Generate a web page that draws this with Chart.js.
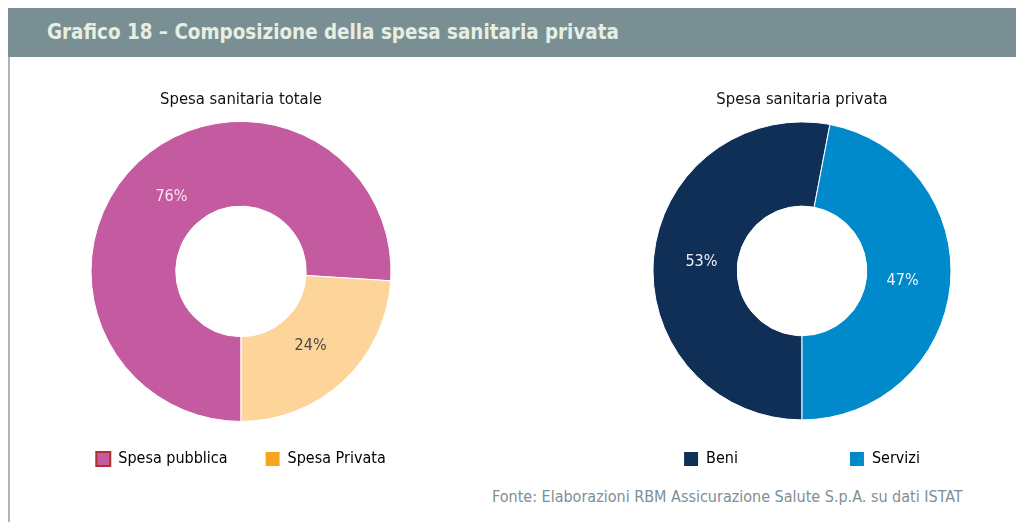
<!DOCTYPE html>
<html>
<head>
<meta charset="utf-8">
<script src="https://cdn.jsdelivr.net/npm/chart.js@4"></script>
<style>
  body { margin: 0; width: 1016px; height: 522px; overflow: hidden; background: #fff; position: relative;
         font-family: "DejaVu Sans Condensed", sans-serif; }
  #header { position: absolute; left: 8px; top: 8px; width: 1008px; height: 49px; background: #798f94; }
  #header span { position: absolute; left: 39px; top: 0; line-height: 49px; font-size: 20.4px; font-weight: bold; color: #e6efe2; white-space: nowrap; }
  #bordo { position: absolute; left: 8px; top: 57px; width: 2px; height: 465px; background: #a9b7ba; }
  .box { position: absolute; top: 81px; height: 400px; }
  #fonte { position: absolute; left: 492px; top: 487px; line-height: 20px; font-size: 16px; color: #7c9095; white-space: nowrap; }
</style>
</head>
<body>
<div id="header"><span>Grafico 18 – Composizione della spesa sanitaria privata</span></div>
<div id="bordo"></div>
<div class="box" style="left:41px; width:400px"><canvas id="chartTotale" width="400" height="400"></canvas></div>
<div class="box" style="left:567px; width:470px"><canvas id="chartPrivata" width="470" height="400"></canvas></div>
<div id="fonte">Fonte: Elaborazioni RBM Assicurazione Salute S.p.A. su dati ISTAT</div>

<script>
const categorieTotale = ['Spesa pubblica', 'Spesa Privata'];
const valoriTotale = [76, 24];
const categoriePrivata = ['Beni', 'Servizi'];
const valoriPrivata = [53, 47];

const font = '"DejaVu Sans Condensed", sans-serif';

// etichette percentuali dentro le fette (un po' più vicine al foro)
const etichette = {
    id: 'etichette',
    afterDatasetsDraw(chart, args, opts) {
        const ctx = chart.ctx;
        const meta = chart.getDatasetMeta(0);
        const dati = chart.data.datasets[0].data;
        ctx.save();
        ctx.font = '16px ' + font;
        ctx.textAlign = 'center';
        ctx.textBaseline = 'middle';
        meta.data.forEach((arc, i) => {
            const a = arc.getProps(['x', 'y', 'startAngle', 'endAngle', 'innerRadius', 'outerRadius']);
            const mid = (a.startAngle + a.endAngle) / 2;
            const r = a.innerRadius + 0.43 * (a.outerRadius - a.innerRadius);
            ctx.fillStyle = opts.colori[i];
            ctx.fillText(dati[i] + '%', a.x + Math.cos(mid) * r, a.y + Math.sin(mid) * r);
        });
        ctx.restore();
    }
};

function creaGrafico(id, cfg) {
    return new Chart(document.getElementById(id), {
        type: 'doughnut',
        data: {
            labels: cfg.categorie,
            datasets: [{
                data: cfg.valori,
                backgroundColor: cfg.colori,
                borderColor: '#ffffff',
                borderWidth: 1,
                radius: cfg.raggio,
                clip: false
            }]
        },
        options: {
            responsive: false,
            animation: false,
            events: [],
            rotation: 180,
            cutout: '43.5%',
            layout: { padding: { bottom: 4 } },
            plugins: {
                tooltip: { enabled: false },
                title: {
                    display: true,
                    text: cfg.titolo,
                    color: '#111111',
                    font: { family: font, size: 16.5, weight: 'normal' },
                    padding: { top: 9, bottom: cfg.spazioTitolo }
                },
                legend: {
                    position: 'bottom',
                    labels: {
                        boxWidth: 14,
                        boxHeight: 14,
                        padding: cfg.spazioLegenda,
                        color: '#222222',
                        font: { family: font, size: 16 },
                        generateLabels: (chart) => chart.data.labels.map((l, i) => ({
                            text: l,
                            fillStyle: cfg.coloriLegenda[i],
                            strokeStyle: cfg.bordiLegenda[i] || cfg.coloriLegenda[i],
                            lineWidth: cfg.bordiLegenda[i] ? 2 : 0,
                            hidden: false,
                            index: i
                        }))
                    }
                },
                etichette: { colori: cfg.coloriTesto }
            }
        },
        plugins: [etichette]
    });
}

creaGrafico('chartTotale', {
    titolo: 'Spesa sanitaria totale',
    categorie: categorieTotale,
    valori: valoriTotale,
    colori: ['#c45aa0', '#fdd59b'],
    coloriLegenda: ['#c45aa0', '#f7a51c'],
    bordiLegenda: ['#b0302f', null],
    coloriTesto: ['#f6e6f1', '#474747'],
    raggio: 150,
    spazioTitolo: 20,
    spazioLegenda: 38
});

creaGrafico('chartPrivata', {
    titolo: 'Spesa sanitaria privata',
    categorie: categoriePrivata,
    valori: valoriPrivata,
    colori: ['#0f2f56', '#0089cb'],
    coloriLegenda: ['#0f2f56', '#0089cb'],
    bordiLegenda: [null, null],
    coloriTesto: ['#eef2f6', '#eef6fb'],
    raggio: 149,
    spazioTitolo: 93,
    spazioLegenda: 112
});
</script>
</body>
</html>
